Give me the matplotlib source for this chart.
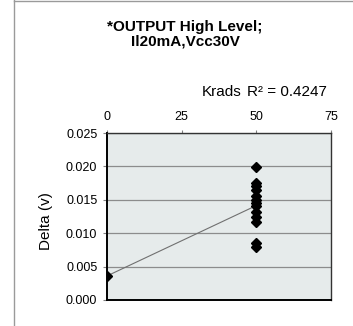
import numpy as np
from matplotlib import pyplot as plt
from matplotlib.lines import Line2D

plt.rcParams['font.family'] = ['Liberation Sans', 'DejaVu Sans']

# dose (Krads) and delta (V)
krads = [0, 50, 50, 50, 50, 50, 50, 50, 50, 50, 50, 50, 50, 50]
delta = [0.0036, 0.0199, 0.0175, 0.0170, 0.0165, 0.0155, 0.0150, 0.0145,
         0.0140, 0.0131, 0.0125, 0.0117, 0.0086, 0.0080]
x_ticks = [0, 25, 50, 75]
y_ticks = [0.000, 0.005, 0.010, 0.015, 0.020, 0.025]
title = '*OUTPUT High Level;\nIl20mA,Vcc30V'
r2_label = 'R² = 0.4247'

fig = plt.figure(figsize=(3.53, 3.26), dpi=100)
ax = fig.add_axes([107 / 353, 1 - 300 / 326, 224 / 353, 167 / 326])
ax.set_facecolor('#e6ebeb')

slope, icpt = np.polyfit(krads, delta, 1)
xs = np.array([min(krads), max(krads)])
ax.plot(xs, icpt + slope * xs, color='#707070', lw=0.8, zorder=2)
ax.plot(krads, delta, 'D', color='black', ms=5, zorder=3)

ax.set_xlim(0, 75)
ax.set_ylim(0, 0.025)
ax.set_xticks(x_ticks)
ax.set_yticks(y_ticks)
ax.set_yticklabels([f'{v:.3f}' for v in y_ticks])
ax.xaxis.tick_top()
ax.tick_params(axis='both', labelsize=9, width=0.8, color='#808080',
               direction='out')
ax.tick_params(axis='x', length=2.5, pad=4.5)
ax.tick_params(axis='y', length=3, pad=4)
ax.grid(axis='y', color='#8c8c8c', lw=0.9)
ax.set_axisbelow(True)
for side in ['left', 'bottom']:
    ax.spines[side].set_linewidth(1.4)
    ax.spines[side].set_color('black')
for side in ['top', 'right']:
    ax.spines[side].set_linewidth(1.0)
    ax.spines[side].set_color('#333333')
ax.set_ylabel('Delta (v)', fontsize=11, va='center')
ax.yaxis.set_label_coords(-0.272, 0.47)

fig.text(185 / 353, 1 - 34 / 326, title, ha='center', va='center',
         fontsize=11, fontweight='bold', linespacing=1.05)
fig.text(201.5 / 353, 1 - 91.5 / 326, 'Krads', ha='left', va='center', fontsize=11)
fig.text(247 / 353, 1 - 91.5 / 326, r2_label, ha='left', va='center', fontsize=11)

# outer chart border (only left and top are inside the picture)
fig.add_artist(Line2D([13.5 / 353, 13.5 / 353], [0, 1], color='#9a9a9a', lw=1.0))
fig.add_artist(Line2D([13.5 / 353, 1], [1 - 0.5 / 326, 1 - 0.5 / 326], color='#9a9a9a', lw=1.0))

fig.savefig('out.png', dpi=100)
